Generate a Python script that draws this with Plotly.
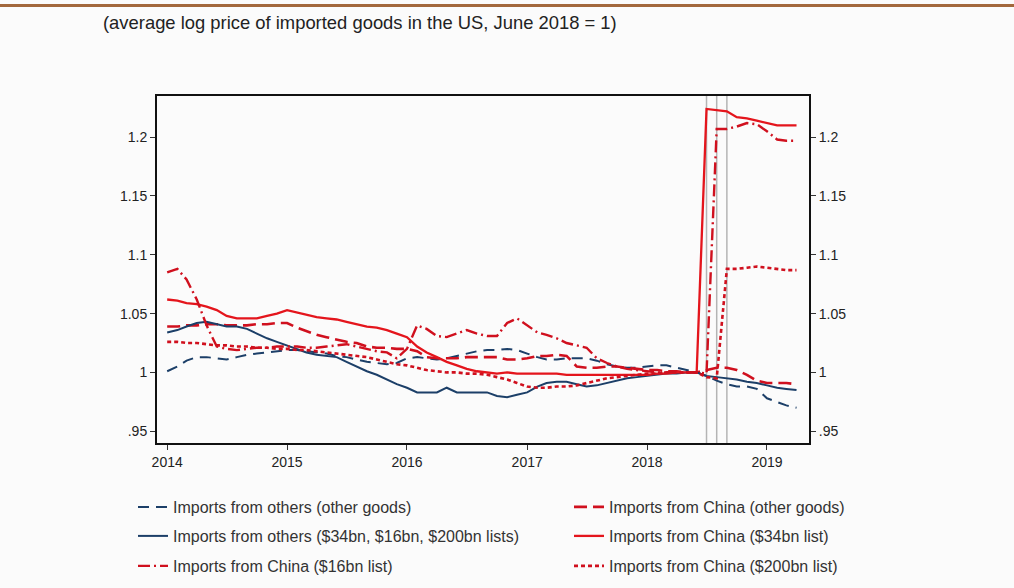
import plotly.graph_objects as go
import pandas as pd

months = pd.date_range("2014-01-01", "2019-04-01", freq="MS")

others_other = [1.001, 1.005, 1.010, 1.013, 1.013, 1.012, 1.011, 1.013, 1.015, 1.016, 1.017, 1.018,
                1.019, 1.019, 1.018, 1.017, 1.016, 1.014, 1.013, 1.011, 1.009, 1.008, 1.007, 1.008,
                1.012, 1.013, 1.012, 1.011, 1.012, 1.014, 1.016, 1.018, 1.019, 1.019, 1.020, 1.019,
                1.016, 1.013, 1.011, 1.011, 1.012, 1.012, 1.012, 1.010, 1.007, 1.005, 1.004, 1.004,
                1.005, 1.006, 1.006, 1.004, 1.002, 1.000, 0.997, 0.993, 0.990, 0.988, 0.988, 0.986,
                0.978, 0.975, 0.972, 0.970]

others_lists = [1.034, 1.036, 1.039, 1.042, 1.043, 1.041, 1.039, 1.039, 1.037, 1.033, 1.029, 1.026,
                1.023, 1.020, 1.017, 1.015, 1.014, 1.013, 1.009, 1.005, 1.001, 0.998, 0.994, 0.990,
                0.987, 0.983, 0.983, 0.983, 0.987, 0.983, 0.983, 0.983, 0.983, 0.980, 0.979, 0.981,
                0.983, 0.988, 0.991, 0.992, 0.992, 0.990, 0.988, 0.989, 0.991, 0.993, 0.995, 0.996,
                0.997, 0.998, 0.999, 0.999, 1.000, 1.000, 0.997, 0.996, 0.995, 0.994, 0.992, 0.991,
                0.989, 0.987, 0.986, 0.985]

china_other = [1.039, 1.039, 1.040, 1.040, 1.041, 1.041, 1.040, 1.040, 1.040, 1.041, 1.041, 1.042,
               1.042, 1.038, 1.035, 1.032, 1.030, 1.028, 1.026, 1.025, 1.022, 1.021, 1.021, 1.020,
               1.020, 1.018, 1.013, 1.012, 1.012, 1.012, 1.013, 1.013, 1.013, 1.013, 1.011, 1.011,
               1.012, 1.014, 1.014, 1.015, 1.014, 1.005, 1.004, 1.004, 1.005, 1.005, 1.004, 1.003,
               1.002, 1.002, 1.001, 1.001, 1.000, 1.000, 1.002, 1.004, 1.004, 1.002, 0.998, 0.993,
               0.991, 0.991, 0.991, 0.990]

china_34bn = [1.062, 1.061, 1.059, 1.058, 1.056, 1.053, 1.048, 1.046, 1.046, 1.046, 1.048, 1.050,
              1.053, 1.051, 1.049, 1.047, 1.046, 1.045, 1.043, 1.041, 1.039, 1.038, 1.036, 1.033,
              1.030, 1.022, 1.017, 1.013, 1.009, 1.006, 1.003, 1.001, 1.000, 0.999, 1.000, 0.999,
              0.999, 0.999, 0.999, 0.999, 0.998, 0.998, 0.998, 0.998, 0.998, 0.998, 0.998, 0.998,
              0.998, 0.999, 0.999, 1.000, 1.000, 1.000, 1.224, 1.223, 1.222, 1.217, 1.216, 1.214,
              1.212, 1.210, 1.210, 1.210]

china_16bn = [1.085, 1.088, 1.079, 1.062, 1.040, 1.022, 1.020, 1.019, 1.020, 1.021, 1.021, 1.022,
              1.022, 1.022, 1.021, 1.021, 1.022, 1.023, 1.024, 1.022, 1.020, 1.018, 1.017, 1.012,
              1.020, 1.040, 1.037, 1.031, 1.030, 1.033, 1.036, 1.033, 1.031, 1.031, 1.042, 1.046,
              1.040, 1.034, 1.032, 1.029, 1.025, 1.023, 1.021, 1.012, 1.008, 1.005, 1.003, 1.002,
              1.001, 1.000, 1.000, 1.000, 1.000, 1.000, 0.999, 1.207, 1.207, 1.209, 1.212, 1.211,
              1.205, 1.198, 1.197, 1.197]

china_200bn = [1.026, 1.026, 1.025, 1.025, 1.024, 1.023, 1.023, 1.022, 1.022, 1.021, 1.021, 1.020,
               1.020, 1.019, 1.019, 1.018, 1.017, 1.016, 1.015, 1.014, 1.013, 1.011, 1.009, 1.007,
               1.006, 1.004, 1.002, 1.001, 1.000, 1.000, 0.999, 0.999, 0.998, 0.996, 0.994, 0.991,
               0.988, 0.987, 0.987, 0.988, 0.988, 0.989, 0.991, 0.993, 0.995, 0.996, 0.997, 0.998,
               0.999, 0.999, 1.000, 1.000, 1.000, 1.000, 0.996, 0.995, 1.088, 1.088, 1.089, 1.090,
               1.089, 1.088, 1.087, 1.087]

tariff_dates = ["2018-07-01", "2018-08-01", "2018-09-01"]
year_ticks = ["2014-01-01", "2015-01-01", "2016-01-01", "2017-01-01", "2018-01-01", "2019-01-01"]
year_labels = ["2014", "2015", "2016", "2017", "2018", "2019"]
y_ticks = [0.95, 1.0, 1.05, 1.1, 1.15, 1.2]
y_labels = [".95", "1", "1.05", "1.1", "1.15", "1.2"]

NAVY = "#1c3f68"
RED = "#e4151c"
DRED = "#d0101e"

W, H = 1014, 588
L, R, T, B = 157, 205, 96, 145
pw, ph = W - L - R, H - T - B


def px_x(p):
    return (p - L) / pw


def px_y(p):
    return (H - B - p) / ph


# (name, values, colour, dash, width, legend column text x, legend row y)
series = [
    ("Imports from others (other goods)", others_other, NAVY, "11px,7px", 2, 173, 507),
    ("Imports from China (other goods)", china_other, DRED, "13px,6px", 2.6, 609, 507),
    ("Imports from others ($34bn, $16bn, $200bn lists)", others_lists, NAVY, "solid", 2, 173, 536),
    ("Imports from China ($34bn list)", china_34bn, RED, "solid", 2.3, 609, 536),
    ("Imports from China ($16bn list)", china_16bn, DRED, "12px,4px,2px,4px", 2.4, 173, 566),
    ("Imports from China ($200bn list)", china_200bn, DRED, "4px,3px", 2.6, 609, 566),
]

fig = go.Figure()
legend_layout = {}
for k, (name, vals, col, dash, w, tx, ty) in enumerate(series):
    lg = "legend" if k == 0 else f"legend{k + 1}"
    fig.add_trace(go.Scatter(x=months, y=vals, mode="lines", name=name,
                             line=dict(color=col, dash=dash, width=w), legend=lg))
    legend_layout[lg] = dict(
        xref="container", yref="container",
        x=(tx - 40) / W, y=1 - ty / H, xanchor="left", yanchor="middle",
        bgcolor="rgba(0,0,0,0)",
        font=dict(family="Liberation Sans", size=16, color="#333"),
    )

# invisible trace to activate right axis
fig.add_trace(go.Scatter(x=months, y=china_34bn, yaxis="y2", mode="lines",
                         line=dict(width=0), showlegend=False, hoverinfo="skip", opacity=0))

for d in tariff_dates:
    fig.add_shape(type="line", xref="x", yref="paper", x0=d, x1=d, y0=0, y1=1,
                  line=dict(color="#b4b4b4", width=1.5), layer="below")

fig.add_shape(type="line", xref="paper", yref="paper", x0=px_x(0), x1=px_x(W),
              y0=px_y(5.5), y1=px_y(5.5), line=dict(color="#a3683c", width=3))

fig.add_annotation(text="(average log price of imported goods in the US, June 2018 = 1)",
                   xref="paper", yref="paper", x=px_x(101), y=px_y(22), xanchor="left",
                   yanchor="middle", showarrow=False,
                   font=dict(family="Liberation Sans", size=18.4, color="#222"))

font = dict(family="Liberation Sans", size=14, color="#222")
yr = [0.94, 1.235]
axis_common = dict(showgrid=False, zeroline=False, showline=True, linecolor="#111",
                   linewidth=2, ticks="outside", ticklen=5, tickwidth=1.2, tickcolor="#333",
                   tickfont=font)

fig.update_layout(
    width=W, height=H,
    margin=dict(l=L, r=R, t=T, b=B, autoexpand=False),
    paper_bgcolor="#fbfbfb", plot_bgcolor="#fbfbfb",
    showlegend=True,
    xaxis=dict(range=["2013-12-01", "2019-05-09"], tickvals=year_ticks, ticktext=year_labels,
               mirror=True, **axis_common),
    yaxis=dict(range=yr, tickvals=y_ticks, ticktext=y_labels, mirror=True, **axis_common),
    yaxis2=dict(range=yr, tickvals=y_ticks, ticktext=y_labels, overlaying="y", side="right",
                **axis_common),
    **legend_layout,
)

fig.write_html("out.html")
